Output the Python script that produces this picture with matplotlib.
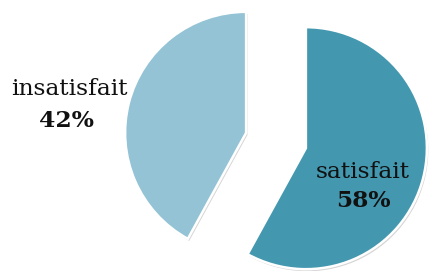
import matplotlib
matplotlib.use("Agg")
import matplotlib.pyplot as plt
import matplotlib.patheffects as pe

categories = ["satisfait", "insatisfait"]
values = [58, 42]
colors = ["#4398B0", "#93C3D5"]

W, H, DPI = 429, 271, 100
fig = plt.figure(figsize=(W / DPI, H / DPI), dpi=DPI)
ax = fig.add_axes([0, 0, 1, 1])

scale = 121.0  # px per unit radius
cx, cy = 276.0, 140.5  # pie centre in pixels (from top-left)

wedges, _ = ax.pie(values, colors=colors, startangle=90, counterclock=False,
                   radius=1.0, explode=[0.255, 0.255],
                   wedgeprops=dict(edgecolor="white", linewidth=1.8))
for w in wedges:
    w.set_path_effects([pe.SimplePatchShadow(offset=(1, -1.5), shadow_rgbFace="#888888", alpha=0.35),
                        pe.Normal()])

ax.set_xlim(-cx / scale, (W - cx) / scale)
ax.set_ylim(-(H - cy) / scale, cy / scale)
ax.set_aspect("auto")
ax.axis("off")

def px(x, y):
    return (x - cx) / scale, (cy - y) / scale

fs = 16.8
fam = "DejaVu Serif"
pct = [f"{v}%" for v in values]
# satisfait labels
ax.text(*px(363, 172), categories[0], ha="center", va="center", fontsize=fs, family=fam, color="#111111")
ax.text(*px(363, 201), pct[0], ha="center", va="center", fontsize=fs, family=fam, weight="bold", color="#111111")
# insatisfait labels
ax.text(*px(69, 89), categories[1], ha="center", va="center", fontsize=fs, family=fam, color="#111111")
ax.text(*px(66, 121), pct[1], ha="center", va="center", fontsize=fs, family=fam, weight="bold", color="#111111")

fig.savefig("out.png", dpi=DPI)
